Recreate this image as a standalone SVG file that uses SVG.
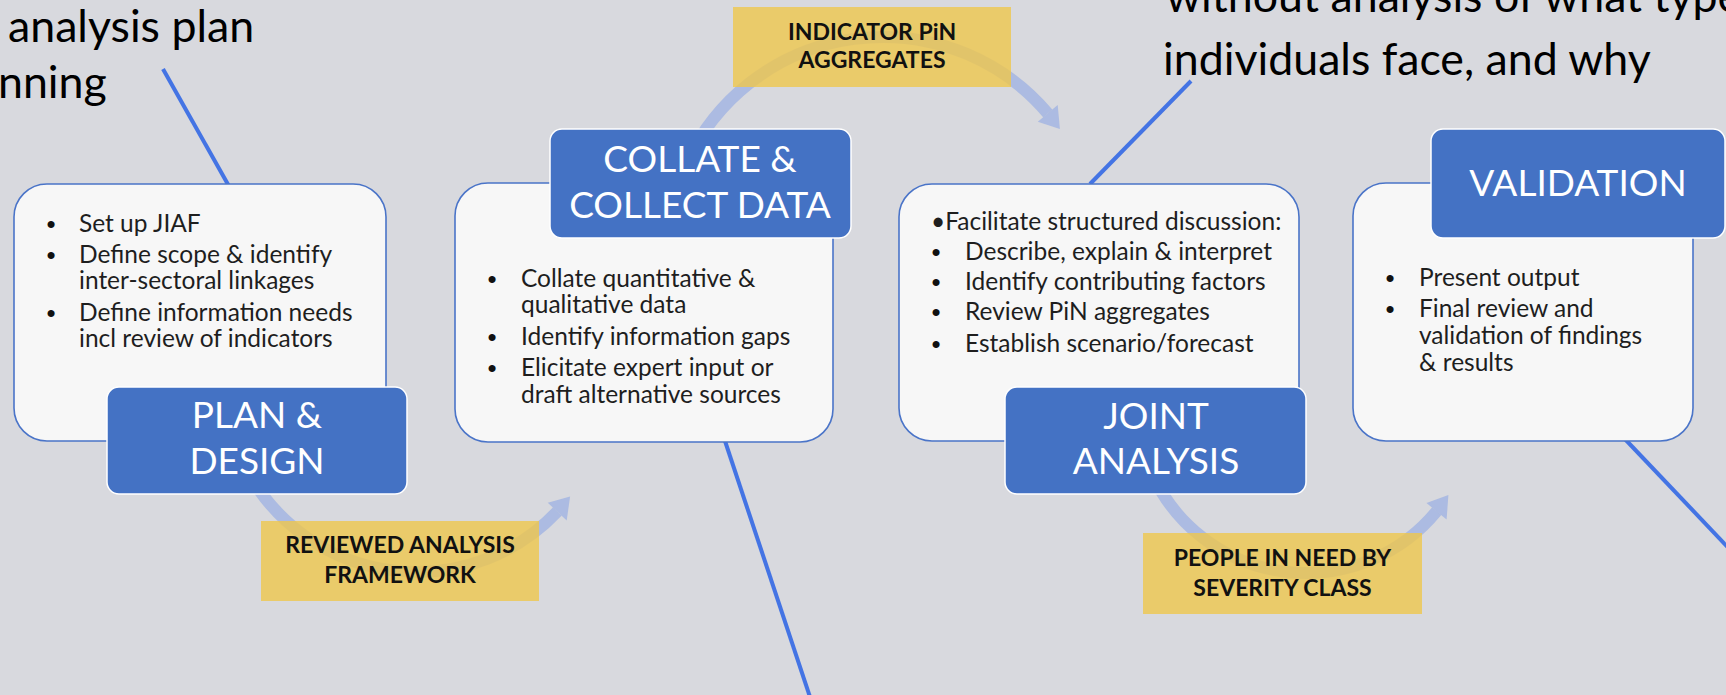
<svg xmlns="http://www.w3.org/2000/svg" width="1726" height="695" viewBox="0 0 1726 695">
<style>
.bg{fill:#D8D9DE}
.card{fill:#F7F7F7;stroke:#4A74C8;stroke-width:1.6}
.title{fill:#4472C4;stroke:#FFFFFF;stroke-width:1.5}
.ttext{font-family:Lato,"Liberation Sans",sans-serif;font-size:37px;fill:#FFFFFF;text-anchor:middle}
.body{font-family:Lato,"Liberation Sans",sans-serif;font-size:24.5px;fill:#1E1E1E}
.bul{font-family:"Liberation Sans",sans-serif;font-size:26px;fill:#111;text-anchor:middle}
.lab{fill:#EFC74C;opacity:0.8}
.ltext{font-family:Lato,"Liberation Sans",sans-serif;font-weight:bold;font-size:23px;fill:#111;text-anchor:middle}
.big{font-family:Lato,"Liberation Sans",sans-serif;font-size:44.7px;fill:#000}
.arc{fill:none;stroke:#7F9DE6;stroke-width:12;stroke-opacity:0.5}
.head{fill:#7F9DE6;fill-opacity:0.5}
.call{stroke:#4474E4;stroke-width:4;fill:none}
</style>
<rect class="bg" x="0" y="0" width="1726" height="695"/>

<g id="notes">
<text class="big" x="8" y="42">analysis plan</text>
<text class="big" x="-2" y="98">nning</text>
<text class="big" x="1166" y="12">without analysis of what type</text>
<text class="big" x="1163" y="75">individuals face, and why</text>
</g>

<g id="connectors">
<path class="arc" d="M 687.2 161.7 A 216 216 0 0 1 1047.7 113.3"/>
<polygon class="head" points="1037.8,121.7 1059.9,129.1 1057.7,104.9"/>
<path class="arc" d="M 249.9 475.5 A 193 193 0 0 0 557.2 511.6"/>
<polygon class="head" points="547.8,502.7 570.1,496.5 566.7,520.5"/>
<path class="arc" d="M 1152.8 475.4 A 169 169 0 0 0 1436.6 511.3"/>
<polygon class="head" points="1426.5,503.0 1448.4,495.1 1446.6,519.5"/>
<line class="call" x1="163" y1="69" x2="230" y2="188"/>
<line class="call" x1="724" y1="438" x2="811" y2="700"/>
<line class="call" x1="1191" y1="81" x2="1090" y2="184"/>
<line class="call" x1="1623" y1="437" x2="1740" y2="560"/>
</g>

<g id="label-indicator">
<rect class="lab" x="733" y="7" width="278" height="80"/>
<text class="ltext" x="872" y="40">INDICATOR PiN</text>
<text class="ltext" x="872" y="68">AGGREGATES</text>
</g>
<g id="label-framework">
<rect class="lab" x="261" y="521" width="278" height="80"/>
<text class="ltext" x="400" y="553">REVIEWED ANALYSIS</text>
<text class="ltext" x="400" y="583">FRAMEWORK</text>
</g>
<g id="label-pin">
<rect class="lab" x="1143" y="533" width="279" height="81"/>
<text class="ltext" x="1282.5" y="566">PEOPLE IN NEED BY</text>
<text class="ltext" x="1282.5" y="596">SEVERITY CLASS</text>
</g>

<g id="plan-design">
<rect class="card" x="14" y="184" width="372" height="257" rx="33"/>
<text class="bul" x="51" y="233">•</text>
<text class="body" x="79" y="232">Set up JIAF</text>
<text class="bul" x="51" y="264">•</text>
<text class="body" x="79" y="263">Define scope &amp; identify</text>
<text class="body" x="79" y="289">inter-sectoral linkages</text>
<text class="bul" x="51" y="322">•</text>
<text class="body" x="79" y="321">Define information needs</text>
<text class="body" x="79" y="347">incl review of indicators</text>
<rect class="title" x="107" y="387" width="300" height="107" rx="12"/>
<text class="ttext" x="257" y="428">PLAN &amp;</text>
<text class="ttext" x="257" y="474">DESIGN</text>
</g>

<g id="collate-collect">
<rect class="card" x="455" y="183" width="378" height="259" rx="33"/>
<text class="bul" x="492" y="288">•</text>
<text class="body" x="521" y="287">Collate quantitative &amp;</text>
<text class="body" x="521" y="313">qualitative data</text>
<text class="bul" x="492" y="346">•</text>
<text class="body" x="521" y="345">Identify information gaps</text>
<text class="bul" x="492" y="377">•</text>
<text class="body" x="521" y="376">Elicitate expert input or</text>
<text class="body" x="521" y="403">draft alternative sources</text>
<rect class="title" x="550" y="129" width="301" height="109" rx="12"/>
<text class="ttext" x="700" y="172">COLLATE &amp;</text>
<text class="ttext" x="700" y="218">COLLECT DATA</text>
</g>

<g id="joint-analysis">
<rect class="card" x="899" y="184" width="400" height="257" rx="33"/>
<text class="body" x="931" y="230">•Facilitate structured discussion:</text>
<text class="bul" x="936" y="261">•</text>
<text class="body" x="965" y="260">Describe, explain &amp; interpret</text>
<text class="bul" x="936" y="291">•</text>
<text class="body" x="965" y="290">Identify contributing factors</text>
<text class="bul" x="936" y="321">•</text>
<text class="body" x="965" y="320">Review PiN aggregates</text>
<text class="bul" x="936" y="353">•</text>
<text class="body" x="965" y="352">Establish scenario/forecast</text>
<rect class="title" x="1005" y="387" width="301" height="107" rx="12"/>
<text class="ttext" x="1156" y="429">JOINT</text>
<text class="ttext" x="1156" y="474">ANALYSIS</text>
</g>

<g id="validation">
<rect class="card" x="1353" y="183" width="340" height="258" rx="33"/>
<text class="bul" x="1390" y="287">•</text>
<text class="body" x="1419" y="286">Present output</text>
<text class="bul" x="1390" y="318">•</text>
<text class="body" x="1419" y="317">Final review and</text>
<text class="body" x="1419" y="344">validation of findings</text>
<text class="body" x="1419" y="371">&amp; results</text>
<rect class="title" x="1431" y="129" width="294" height="109" rx="12"/>
<text class="ttext" x="1578" y="196">VALIDATION</text>
</g>
</svg>
